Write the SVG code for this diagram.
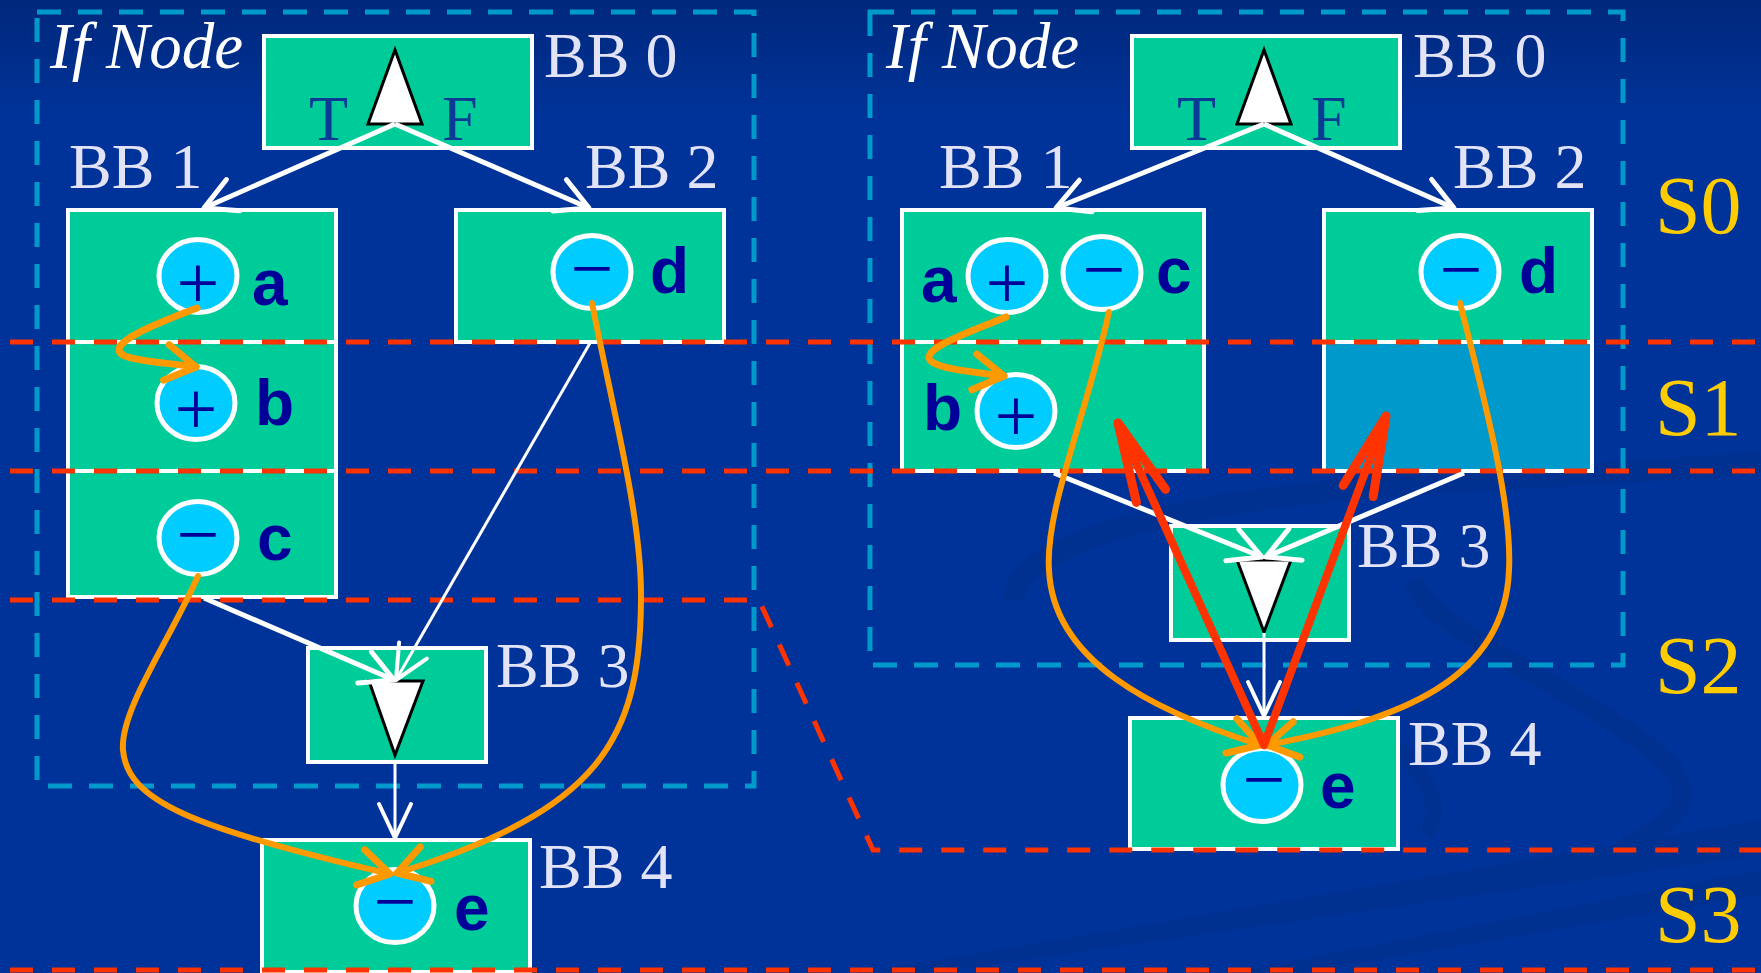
<svg xmlns="http://www.w3.org/2000/svg" width="1761" height="973" viewBox="0 0 1761 973">
<defs>
<linearGradient id="bg" x1="0" y1="0" x2="0" y2="1">
<stop offset="0" stop-color="#00287c"/>
<stop offset="0.12" stop-color="#003399"/>
<stop offset="1" stop-color="#003399"/>
</linearGradient>
<marker id="wa" markerUnits="userSpaceOnUse" orient="auto" overflow="visible" refX="0" refY="0" markerWidth="80" markerHeight="80"><path d="M-32,-17 L0,0 L-32,17" fill="none" stroke="#ffffff" stroke-width="5" stroke-linecap="round" stroke-linejoin="round"/></marker>
<marker id="wa3" markerUnits="userSpaceOnUse" orient="auto" overflow="visible" refX="0" refY="0" markerWidth="80" markerHeight="80"><path d="M-34,-16 L0,0 L-34,16" fill="none" stroke="#ffffff" stroke-width="4" stroke-linecap="round" stroke-linejoin="round"/></marker>
<marker id="oa" markerUnits="userSpaceOnUse" orient="auto" overflow="visible" refX="0" refY="0" markerWidth="80" markerHeight="80"><path d="M-30,-18 L0,0 L-30,18" fill="none" stroke="#FF9900" stroke-width="7" stroke-linecap="round" stroke-linejoin="round"/></marker>
<marker id="ra" markerUnits="userSpaceOnUse" orient="auto" overflow="visible" refX="0" refY="0" markerWidth="120" markerHeight="120"><path d="M-80,-16 L0,0 L-80,16" fill="none" stroke="#FF3300" stroke-width="9" stroke-linecap="round" stroke-linejoin="round"/></marker>
</defs>
<style>
.box{fill:#00CC99;stroke:#ffffff;stroke-width:4}
.box2{fill:#0099CC;stroke:#ffffff;stroke-width:4}
.op{fill:#00CCFF;stroke:#ffffff;stroke-width:5}
.tri{fill:#ffffff;stroke:#000000;stroke-width:3;stroke-linejoin:miter}
.bb{font-family:"Liberation Serif","Times New Roman",serif;font-size:64px;fill:#E3E3F7}
.stage{font-family:"Liberation Serif","Times New Roman",serif;font-size:82px;fill:#FFCC00}
.ifn{font-family:"Liberation Serif","Times New Roman",serif;font-style:italic;font-size:65px;fill:#ffffff}
.tf{font-family:"Liberation Serif","Times New Roman",serif;font-size:64px;fill:#0a3a96}
.var{font-family:"Liberation Sans",Arial,sans-serif;font-weight:bold;font-size:64px;fill:#000099}
.sym{font-family:"Liberation Serif","Times New Roman",serif;font-size:76px;fill:#000099;text-anchor:middle}
.bdash{fill:none;stroke:#0099CC;stroke-width:5;stroke-dasharray:24 17}
.rdash{fill:none;stroke:#FF3300;stroke-width:5;stroke-dasharray:23 19}
.wl{fill:none;stroke:#ffffff;stroke-width:5;marker-end:url(#wa)}
.wl3{fill:none;stroke:#ffffff;stroke-width:3;marker-end:url(#wa3)}
.ol{fill:none;stroke:#FF9900;stroke-width:6;stroke-linecap:round;marker-end:url(#oa)}
.rl{fill:none;stroke:#FF3300;stroke-width:8;stroke-linecap:round;marker-end:url(#ra)}
</style>
<rect x="0" y="0" width="1761" height="973" fill="url(#bg)"/>
<g id="background-swirls" fill="none" stroke="#002a80" opacity="0.32">
<path d="M1015,600 C1010,540 1200,495 1450,482 C1600,474 1700,468 1761,462" stroke-width="22"/>
<path d="M1412,580 C1430,620 1480,640 1560,690 C1700,770 1720,800 1620,850" stroke-width="20"/>
<path d="M1350,712 C1420,760 1450,800 1425,835" stroke-width="16"/>
<path d="M860,973 L1761,820 L1761,855 L930,973 Z" fill="#002a80" stroke="none"/>
<path d="M1230,973 L1761,870 L1761,895 L1300,973 Z" fill="#002a80" stroke="none"/>
</g>
<g id="regions">
<rect class="bdash" x="37" y="12" width="717" height="774"/>
<rect class="bdash" x="870" y="12" width="753" height="653"/>
</g>
<g id="left-BB0">
<rect class="box" x="264" y="36" width="268" height="112"/>
<polygon class="tri" points="395,50 368,124 422,124"/>
<text class="tf" x="309" y="140">T</text>
<text class="tf" x="442" y="140">F</text>
<text class="bb" x="544" y="77">BB 0</text>
<text class="ifn" x="50" y="68">If Node</text>
</g>
<g id="left-BB1">
<rect class="box" x="68" y="210" width="268" height="132"/>
<rect class="box" x="68" y="342" width="268" height="129"/>
<rect class="box" x="68" y="471" width="268" height="126"/>
<text class="bb" x="69" y="188">BB 1</text>
<ellipse class="op" cx="198" cy="276" rx="39" ry="36.5"/>
<text class="sym" x="198" y="308">+</text>
<text class="var" x="252" y="305">a</text>
<ellipse class="op" cx="196" cy="403" rx="39" ry="36.5"/>
<text class="sym" x="196" y="434">+</text>
<text class="var" x="255" y="425">b</text>
<ellipse class="op" cx="198" cy="538" rx="39" ry="36.5"/>
<text class="sym" x="198" y="560">−</text>
<text class="var" x="257" y="560">c</text>
</g>
<g id="left-BB2">
<rect class="box" x="456" y="210" width="268" height="132"/>
<text class="bb" x="585" y="188">BB 2</text>
<ellipse class="op" cx="592" cy="272" rx="39" ry="36.5"/>
<text class="sym" x="592" y="294">−</text>
<text class="var" x="650" y="293">d</text>
</g>
<g id="left-BB3">
<rect class="box" x="308" y="648" width="178" height="114"/>
<polygon class="tri" points="369,681 423,681 395,755"/>
<text class="bb" x="496" y="687">BB 3</text>
</g>
<g id="left-BB4">
<rect class="box" x="262" y="840" width="268" height="132"/>
<text class="bb" x="539" y="888">BB 4</text>
<ellipse class="op" cx="395" cy="906" rx="39" ry="36.5"/>
<text class="sym" x="395" y="927">−</text>
<text class="var" x="454" y="930">e</text>
</g>
<g id="right-BB0">
<rect class="box" x="1132" y="36" width="268" height="112"/>
<polygon class="tri" points="1264,50 1237,124 1291,124"/>
<text class="tf" x="1177" y="140">T</text>
<text class="tf" x="1311" y="140">F</text>
<text class="bb" x="1413" y="77">BB 0</text>
<text class="ifn" x="886" y="68">If Node</text>
</g>
<g id="right-BB1">
<rect class="box" x="902" y="210" width="302" height="132"/>
<rect class="box" x="902" y="342" width="302" height="129"/>
<text class="bb" x="939" y="188">BB 1</text>
<ellipse class="op" cx="1007" cy="276" rx="39" ry="36.5"/>
<text class="sym" x="1007" y="308">+</text>
<text class="var" x="921" y="302">a</text>
<ellipse class="op" cx="1102" cy="273" rx="39" ry="36.5"/>
<text class="sym" x="1104" y="295">−</text>
<text class="var" x="1156" y="293">c</text>
<ellipse class="op" cx="1016" cy="411" rx="39" ry="36.5"/>
<text class="sym" x="1016" y="441">+</text>
<text class="var" x="923" y="430">b</text>
</g>
<g id="right-BB2">
<rect class="box" x="1324" y="210" width="268" height="132"/>
<rect class="box2" x="1324" y="342" width="268" height="129"/>
<text class="bb" x="1453" y="188">BB 2</text>
<ellipse class="op" cx="1460" cy="272" rx="39" ry="36.5"/>
<text class="sym" x="1461" y="295">−</text>
<text class="var" x="1519" y="293">d</text>
</g>
<g id="right-BB3">
<rect class="box" x="1171" y="526" width="178" height="114"/>
<polygon class="tri" points="1237,560 1291,560 1264,632"/>
<text class="bb" x="1357" y="567">BB 3</text>
</g>
<g id="right-BB4">
<rect class="box" x="1130" y="718" width="268" height="131"/>
<text class="bb" x="1408" y="765">BB 4</text>
<ellipse class="op" cx="1262" cy="785" rx="39" ry="36.5"/>
<text class="sym" x="1264" y="805">−</text>
<text class="var" x="1320" y="808">e</text>
</g>
<g id="stages">
<path class="rdash" d="M10,342 H1761"/>
<path class="rdash" d="M10,471 H1761"/>
<path class="rdash" d="M10,600 H759 L873,850 H1761"/>
<path class="rdash" d="M10,970 H1761"/>
<text class="stage" x="1655" y="233">S0</text>
<text class="stage" x="1655" y="435">S1</text>
<text class="stage" x="1655" y="693">S2</text>
<text class="stage" x="1655" y="942">S3</text>
</g>
<g id="connectors">
<path class="wl" d="M395,124 L204,208"/>
<path class="wl" d="M395,124 L589,208"/>
<path class="wl3" d="M590,343 L396,680"/>
<path class="wl" d="M204,598 L394,680"/>
<path class="wl3" d="M395,762 L395,838"/>
<path class="wl" d="M1264,124 L1056,208"/>
<path class="wl" d="M1264,124 L1454,208"/>
<path class="wl" d="M1054,473 L1262,557"/>
<path class="wl" d="M1464,473 L1266,557"/>
<path class="wl3" d="M1264,633 L1264,716"/>
<path class="ol" d="M197,308 C160,322 100,345 125,356 C140,362 170,363 196,367" style="stroke-width:7"/>
<path class="ol" d="M198,576 C170,640 120,710 123,750 C127,800 190,828 390,874"/>
<path class="ol" d="M592,303 C615,420 642,520 641,600 C640,740 600,810 397,873"/>
<path class="ol" d="M1006,317 C975,330 915,350 932,362 C945,370 975,372 1004,376" style="stroke-width:7"/>
<path class="ol" d="M1109,312 C1085,420 1045,510 1049,570 C1053,660 1150,710 1260,745"/>
<path class="ol" d="M1460,303 C1490,420 1512,510 1509,570 C1505,680 1400,720 1267,745"/>
<path class="rl" d="M1264,745 L1118,423"/>
<path class="rl" d="M1264,745 L1386,416"/>
</g>
</svg>
